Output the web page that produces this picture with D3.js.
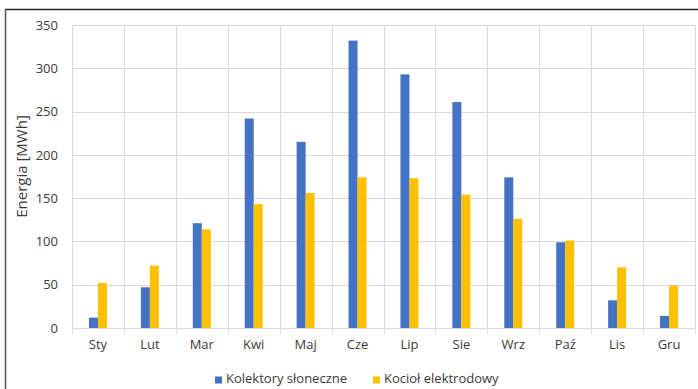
<!DOCTYPE html>
<html>
<head>
<meta charset="utf-8">
<script src="https://cdn.jsdelivr.net/npm/d3@7"></script>
<style>
  html, body { margin: 0; padding: 0; background: #fff; }
  svg { display: block; }
  text { font-family: "Open Sans", "Noto Sans", sans-serif; fill: #3a3a3a; }
</style>
</head>
<body>
<svg id="chart" width="698" height="389"></svg>
<script>
// Monthly energy (MWh)
const months = ["Sty", "Lut", "Mar", "Kwi", "Maj", "Cze", "Lip", "Sie", "Wrz", "Paź", "Lis", "Gru"];
const kolektory = [12, 47, 121, 242, 215, 332, 293, 261, 174, 99, 32, 14];
const kociol = [52, 72, 114, 143, 156, 174, 173, 154, 126, 101, 70, 49];
const seriesNames = ["Kolektory słoneczne", "Kocioł elektrodowy"];
const seriesColors = ["#4472C4", "#FFC000"];
const yTicks = [0, 50, 100, 150, 200, 250, 300, 350];

const svg = d3.select("#chart");
const W = 698, H = 389;
const margin = { left: 72, right: 3, top: 25, bottom: 61 };

// outer frame (top and left edges visible)
svg.append("line").attr("x1", 5).attr("x2", W).attr("y1", 9.5).attr("y2", 9.5)
  .attr("stroke", "#222").attr("stroke-width", 1.5);
svg.append("line").attr("x1", 5.5).attr("x2", 5.5).attr("y1", 9).attr("y2", H)
  .attr("stroke", "#555").attr("stroke-width", 1.5);

const x = d3.scaleBand().domain(months).range([margin.left, W - margin.right]).paddingInner(0).paddingOuter(0);
const y = d3.scaleLinear().domain([0, 350]).range([H - margin.bottom, margin.top]);

const g = svg.append("g");

// horizontal gridlines
g.selectAll(".hgrid").data(yTicks).join("line")
  .attr("x1", margin.left).attr("x2", W - margin.right)
  .attr("y1", d => Math.round(y(d)) + 0.5).attr("y2", d => Math.round(y(d)) + 0.5)
  .attr("stroke", "#d9d9d9").attr("stroke-width", 1);

// vertical gridlines between categories
const vlines = months.map(m => x(m)).concat([x(months[months.length - 1]) + x.bandwidth()]);
g.selectAll(".vgrid").data(vlines).join("line")
  .attr("x1", d => Math.round(d) + 0.5).attr("x2", d => Math.round(d) + 0.5)
  .attr("y1", y(350)).attr("y2", y(0) + 5)
  .attr("stroke", "#d9d9d9").attr("stroke-width", 1);

// bars
const barW = 9;
const series = [kolektory, kociol];
series.forEach((vals, si) => {
  g.selectAll(".bar" + si).data(months).join("rect")
    .attr("x", (m) => x(m) + x.bandwidth() / 2 - barW + si * barW)
    .attr("width", barW)
    .attr("y", (m, i) => y(vals[i]))
    .attr("height", (m, i) => y(0) - y(vals[i]))
    .attr("fill", seriesColors[si]);
});

// y axis labels
const yAxis = d3.axisLeft(y).tickValues(yTicks).tickSize(0).tickPadding(0);
const ya = svg.append("g").attr("transform", `translate(${margin.left - 14},0)`).call(yAxis);
ya.select(".domain").remove();
ya.selectAll("text").attr("font-size", 13).attr("fill", "#3a3a3a")
  .style("font-family", '"Open Sans", sans-serif');

// x axis labels
const xAxis = d3.axisBottom(x).tickSize(0).tickPadding(0);
const xa = svg.append("g").attr("transform", `translate(0,${y(0) + 12})`).call(xAxis);
xa.select(".domain").remove();
xa.selectAll("text").attr("font-size", 13).attr("fill", "#3a3a3a")
  .style("font-family", '"Open Sans", sans-serif');

// y axis title
svg.append("text")
  .attr("transform", `translate(23,${(y(0) + y(350)) / 2 - 10}) rotate(-90)`)
  .attr("text-anchor", "middle").attr("dominant-baseline", "middle")
  .attr("font-size", 15).text("Energia [MWh]");

// legend
const legendX = [215, 373];
seriesNames.forEach((name, i) => {
  const lg = svg.append("g").attr("transform", `translate(${legendX[i]},380)`);
  lg.append("rect").attr("x", 0).attr("y", -3.5).attr("width", 7).attr("height", 7).attr("fill", seriesColors[i]);
  lg.append("text").attr("x", 11).attr("y", 0).attr("dominant-baseline", "middle")
    .attr("font-size", 13).text(name);
});
</script>
</body>
</html>
